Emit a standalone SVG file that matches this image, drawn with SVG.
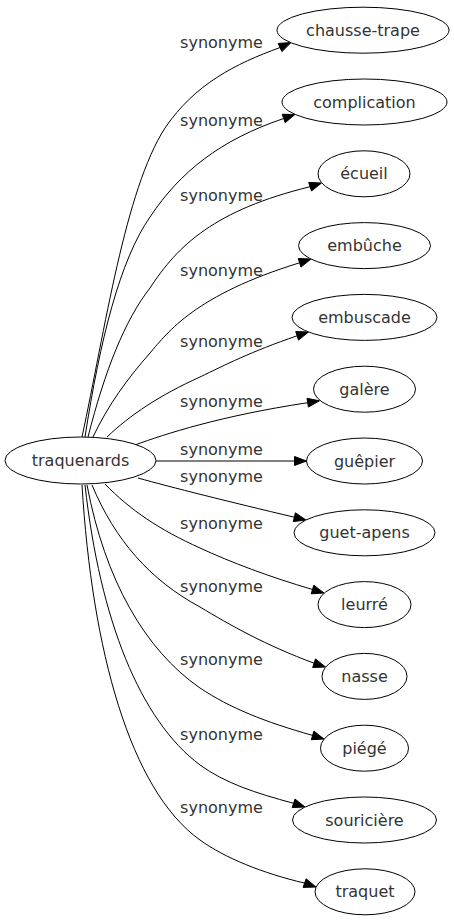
<svg xmlns="http://www.w3.org/2000/svg" width="454" height="923" viewBox="0 0 454 923">
<style>
.n ellipse{fill:#fff;stroke:#000;stroke-width:1}
text{font-family:"DejaVu Sans",sans-serif;font-size:16px;fill:#333;text-anchor:middle}
.e path{fill:none;stroke:#000;stroke-width:1}
.e polygon{fill:#000;stroke:#000;stroke-width:1}
</style>
<rect width="454" height="923" fill="#fff"/>
<g class="e" id="edges">
<path d="M82,437 C105,330 125,190 165,128 C195,84 235,64 280.1,47.5"/>
<polygon points="281.9,51.6 291,42.6 278.2,43.4"/>
<text x="221.5" y="48">synonyme</text>
<path d="M85,437 C100,340 120,260 150,217 C180,172 220,140 283.7,118.5"/>
<polygon points="285.2,122.7 295,114.4 282.2,114.3"/>
<text x="221.5" y="126">synonyme</text>
<path d="M88,437 C105,370 125,320 150,288 C178,245 215,210 310.1,186.7"/>
<polygon points="311.5,191 321.5,183 308.7,182.4"/>
<text x="221.5" y="201">synonyme</text>
<path d="M93,437 C108,405 128,378 150,353 C168,332 195,295 299.6,262.8"/>
<polygon points="301,267.1 311,259 298.2,258.5"/>
<text x="221.5" y="276">synonyme</text>
<path d="M107,437 C130,415 160,395 200,377 C225,365 250,352 297.1,335.8"/>
<polygon points="298.5,340.1 308.5,332 295.7,331.5"/>
<text x="221.5" y="347">synonyme</text>
<path d="M135,445 C165,434 220,416 307.7,402.7"/>
<polygon points="308.4,407.1 319.5,400.8 307,398.3"/>
<text x="221.5" y="407">synonyme</text>
<path d="M156,461 L294.5,461"/>
<polygon points="294.5,465.5 306.5,461 294.5,456.5"/>
<text x="221.5" y="455">synonyme</text>
<path d="M138,478 C170,487 230,502 294.3,517.2"/>
<polygon points="293.3,521.6 306,520 295.4,512.8"/>
<text x="221.5" y="482">synonyme</text>
<path d="M105,484 C130,510 160,530 200,548 C230,562 270,577 312.5,589.5"/>
<polygon points="311.2,593.8 324,593 313.8,585.2"/>
<text x="221.5" y="529">synonyme</text>
<path d="M92,485 C115,540 150,580 200,607 C230,625 265,645 314.1,663.2"/>
<polygon points="312.7,667.5 325.5,667 315.5,658.9"/>
<text x="221.5" y="592">synonyme</text>
<path d="M87,485 C105,580 145,650 200,688 C230,708 265,722 312.6,735.4"/>
<polygon points="311.3,739.7 324,739 313.9,731.1"/>
<text x="221.5" y="665">synonyme</text>
<path d="M85,485 C100,620 140,720 200,765 C225,783 255,793 293.6,803.3"/>
<polygon points="292.2,807.6 305,807 295,799"/>
<text x="221.5" y="740">synonyme</text>
<path d="M82,485 C92,650 130,790 200,840 C225,858 262,873 304.6,883.1"/>
<polygon points="303.1,887.4 316,887 306.1,878.8"/>
<text x="221.5" y="813">synonyme</text>
</g>
<g class="n" id="traquenards"><ellipse cx="80.5" cy="460.5" rx="75.5" ry="23.5"/><text x="80.5" y="466">traquenards</text></g>
<g class="n" id="chausse-trape"><ellipse cx="363" cy="30.2" rx="86" ry="23"/><text x="363" y="35.7">chausse-trape</text></g>
<g class="n" id="complication"><ellipse cx="364.5" cy="102" rx="82.5" ry="23"/><text x="364.5" y="107.5">complication</text></g>
<g class="n" id="ecueil"><ellipse cx="364" cy="173.8" rx="46" ry="23"/><text x="364" y="179.3">écueil</text></g>
<g class="n" id="embuche"><ellipse cx="364.5" cy="245.6" rx="66" ry="23"/><text x="364.5" y="251.1">embûche</text></g>
<g class="n" id="embuscade"><ellipse cx="364.5" cy="317.4" rx="72.5" ry="23"/><text x="364.5" y="322.9">embuscade</text></g>
<g class="n" id="galere"><ellipse cx="364.5" cy="389.2" rx="51" ry="23"/><text x="364.5" y="394.7">galère</text></g>
<g class="n" id="guepier"><ellipse cx="364.5" cy="461" rx="58" ry="23"/><text x="364.5" y="466.5">guêpier</text></g>
<g class="n" id="guet-apens"><ellipse cx="364.5" cy="532.8" rx="70.5" ry="23"/><text x="364.5" y="538.3">guet-apens</text></g>
<g class="n" id="leurre"><ellipse cx="364.5" cy="604.6" rx="46.5" ry="23"/><text x="364.5" y="610.1">leurré</text></g>
<g class="n" id="nasse"><ellipse cx="364.5" cy="676.4" rx="42.5" ry="23"/><text x="364.5" y="681.9">nasse</text></g>
<g class="n" id="piege"><ellipse cx="364.5" cy="748.2" rx="44" ry="23"/><text x="364.5" y="753.7">piégé</text></g>
<g class="n" id="souriciere"><ellipse cx="364.5" cy="820" rx="72" ry="23"/><text x="364.5" y="825.5">souricière</text></g>
<g class="n" id="traquet"><ellipse cx="365" cy="891.8" rx="50" ry="23"/><text x="365" y="897.3">traquet</text></g>
</svg>
